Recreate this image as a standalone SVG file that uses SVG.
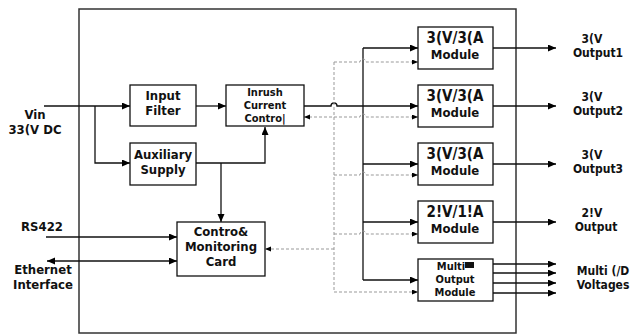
<svg xmlns="http://www.w3.org/2000/svg" width="634" height="335" viewBox="0 0 634 335">
<style>
.box{fill:#fff;stroke:#111;stroke-width:1.3}
.frame{fill:none;stroke:#333;stroke-width:1.5}
.ln{fill:none;stroke:#111;stroke-width:1.3}
.dl{fill:none;stroke:#999;stroke-width:1;stroke-dasharray:3,2}
text{font-family:"DejaVu Sans Condensed","DejaVu Sans",sans-serif;font-weight:bold;font-size:13px;fill:#111;text-anchor:middle}
.sm{font-size:11px}
.lb{font-size:12px}
.big{font-size:15px}
</style>
<defs>
<marker id="ah" markerUnits="userSpaceOnUse" markerWidth="9" markerHeight="8" refX="8" refY="3.5" orient="auto-start-reverse"><path d="M0,0 L8,3.5 L0,7 z" fill="#000"/></marker>
<marker id="as" markerUnits="userSpaceOnUse" markerWidth="7" markerHeight="6" refX="6" refY="2.5" orient="auto-start-reverse"><path d="M0,0 L6,2.5 L0,5 z" fill="#000"/></marker>
</defs>
<rect class="frame" x="79" y="9" width="437" height="324"/>
<g id="connectors">
<path class="ln" d="M44,106 H130" marker-end="url(#ah)"/>
<path class="ln" d="M95,106 V163 H130" marker-end="url(#ah)"/>
<path class="ln" d="M196,106 H226" marker-end="url(#ah)"/>
<path class="ln" d="M196,163 H265 V127" marker-end="url(#ah)"/>
<path class="ln" d="M221,163 V222" marker-end="url(#ah)"/>
<path class="ln" d="M304,106 H331 A3,3 0 0 1 337,106 H418" marker-end="url(#ah)"/>
<path class="ln" d="M363,48 V280"/>
<path class="ln" d="M363,48 H418" marker-end="url(#ah)"/>
<path class="ln" d="M363,164 H418" marker-end="url(#ah)"/>
<path class="ln" d="M363,222 H418" marker-end="url(#ah)"/>
<path class="ln" d="M363,280 H418" marker-end="url(#ah)"/>
<path class="ln" d="M493,48 H556" marker-end="url(#ah)"/>
<path class="ln" d="M493,106 H556" marker-end="url(#ah)"/>
<path class="ln" d="M493,164 H556" marker-end="url(#ah)"/>
<path class="ln" d="M493,222 H556" marker-end="url(#ah)"/>
<path class="ln" d="M493,264 H556" marker-end="url(#ah)"/>
<path class="ln" d="M493,273 H556" marker-end="url(#ah)"/>
<path class="ln" d="M493,283 H556" marker-end="url(#ah)"/>
<path class="ln" d="M493,293 H556" marker-end="url(#ah)"/>
<path class="ln" d="M46,237 H177" marker-end="url(#ah)"/>
<path class="ln" d="M47,261 H177" marker-start="url(#ah)" marker-end="url(#ah)"/>
<path class="dl" d="M334,62 V292"/>
<path class="dl" d="M334,62 H360 A3,3 0 0 1 366,62 H418" marker-end="url(#as)"/>
<path class="dl" d="M304,117 H360 A3,3 0 0 1 366,117 H418" marker-start="url(#as)" marker-end="url(#as)"/>
<path class="dl" d="M334,175 H360 A3,3 0 0 1 366,175 H418" marker-end="url(#as)"/>
<path class="dl" d="M334,234 H360 A3,3 0 0 1 366,234 H418" marker-end="url(#as)"/>
<path class="dl" d="M334,292 H418" marker-end="url(#as)"/>
<path class="dl" d="M334,249 H265" marker-end="url(#as)"/>
</g>
<g id="input-filter"><rect class="box" x="130" y="85" width="66" height="41"/><text x="163" y="100">Input</text><text x="163" y="115">Filter</text></g>
<g id="inrush"><rect class="box" x="226" y="85" width="78" height="41"/><text class="sm" x="265" y="96">Inrush</text><text class="sm" x="265" y="109">Current</text><text class="sm" x="265" y="122">Contro|</text></g>
<g id="aux"><rect class="box" x="130" y="143" width="66" height="42"/><text x="163" y="159">Auxiliary</text><text x="163" y="174">Supply</text></g>
<g id="control"><rect class="box" x="177" y="222" width="88" height="54"/><text x="221" y="236">Contro&amp;</text><text x="221" y="251">Monitoring</text><text x="221" y="266">Card</text></g>
<g id="mod1"><rect class="box" x="418" y="27" width="75" height="42"/><text class="big" x="455" y="43">3(V/3(A</text><text x="455" y="59">Module</text></g>
<g id="mod2"><rect class="box" x="418" y="85" width="75" height="42"/><text class="big" x="455" y="101">3(V/3(A</text><text x="455" y="117">Module</text></g>
<g id="mod3"><rect class="box" x="418" y="143" width="75" height="42"/><text class="big" x="455" y="159">3(V/3(A</text><text x="455" y="175">Module</text></g>
<g id="mod4"><rect class="box" x="418" y="201" width="75" height="42"/><text class="big" x="455" y="217">2!V/1!A</text><text x="455" y="233">Module</text></g>
<g id="multi"><rect class="box" x="418" y="259" width="75" height="42"/><text class="sm" x="451" y="270">Multi</text><rect x="465" y="262" width="9" height="6" fill="#111"/><text class="sm" x="455" y="283">Output</text><text class="sm" x="455" y="296">Module</text></g>
<g id="labels">
<text x="35" y="119">Vin</text><text x="35" y="134">33(V DC</text>
<text x="42" y="231">RS422</text>
<text x="43" y="274">Ethernet</text><text x="43" y="289">Interface</text>
<text class="lb" x="592" y="43">3(V</text><text class="lb" x="598" y="57">Output1</text>
<text class="lb" x="592" y="101">3(V</text><text class="lb" x="598" y="115">Output2</text>
<text class="lb" x="592" y="159">3(V</text><text class="lb" x="598" y="173">Output3</text>
<text class="lb" x="592" y="217">2!V</text><text class="lb" x="596" y="231">Output</text>
<text class="lb" x="603" y="275">Multi (/D</text><text class="lb" x="603" y="289">Voltages</text>
</g>
</svg>
